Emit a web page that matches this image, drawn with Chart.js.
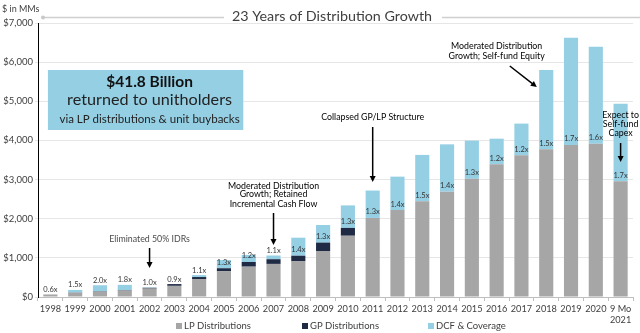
<!DOCTYPE html>
<html>
<head>
<meta charset="utf-8">
<script src="https://cdn.jsdelivr.net/npm/chart.js@4"></script>
<style>
html,body{margin:0;padding:0;background:#fff;}
#wrap{width:640px;height:333px;position:relative;}
</style>
</head>
<body>
<div id="wrap"><canvas id="c" width="640" height="333"></canvas></div>
<script>
const categories = ['1998','1999','2000','2001','2002','2003','2004','2005','2006','2007','2008','2009','2010','2011','2012','2013','2014','2015','2016','2017','2018','2019','2020',['9 Mo','2021']];
const lpDistributions = [65,110,135,165,215,285,460,655,775,845,910,1175,1565,2020,2220,2445,2690,3020,3390,3620,3775,3885,3915,2955];
const gpDistributions = [0,5,10,12,20,45,50,80,120,120,145,215,200,0,0,0,0,0,0,0,0,0,0,0];
const dcfCoverage = [0,65,155,133,10,0,50,210,180,95,460,450,575,700,855,1185,1210,975,655,810,2025,2735,2480,1985];
const coverageLabels = ['0.6x','1.5x','2.0x','1.8x','1.0x','0.9x','1.1x','1.3x','1.2x','1.1x','1.4x','1.3x','1.3x','1.3x','1.4x','1.5x','1.4x','1.3x','1.2x','1.2x','1.5x','1.7x','1.6x','1.7x'];
const yTicks = [0,1000,2000,3000,4000,5000,6000,7000];

const FONT = 'Lato, "Open Sans", sans-serif';
const TXT = '#404040';
const C_LP = '#A6A6A6', C_GP = '#1F2A44', C_DCF = '#95CFE4';

const annotations = [
  {lines:['Eliminated 50% IDRs'], x:4, ys:[1482], arrow:{x1:4,y1:1252,x2:4,y2:741}},
  {lines:['Moderated Distribution','Growth; Retained','Incremental Cash Flow'], x:9, ys:[2844,2624,2376], arrow:{x1:9,y1:2146,x2:9,y2:1329}},
  {lines:['Collapsed GP/LP Structure'], x:13, ys:[4599], arrow:{x1:13,y1:4343,x2:13,y2:2938}},
  {lines:['Moderated Distribution','Growth; Self-fund Equity'], x:18, ys:[6397,6157], arrow:{x1:18.53,y1:5902,x2:19.62,y2:5365}},
  {lines:['Expect to','Self-fund','Capex'], x:23, ys:[4650,4420,4190], arrow:{x1:23,y1:3935,x2:23,y2:3449}}
];

function arrow(ctx, x1, y1, x2, y2){
  const a = Math.atan2(y2-y1, x2-x1), h = 6, w = 3;
  ctx.strokeStyle = '#000'; ctx.fillStyle = '#000'; ctx.lineWidth = 1.5;
  ctx.beginPath(); ctx.moveTo(x1,y1);
  ctx.lineTo(x2 - Math.cos(a)*h*0.8, y2 - Math.sin(a)*h*0.8); ctx.stroke();
  ctx.beginPath();
  ctx.moveTo(x2,y2);
  ctx.lineTo(x2 - Math.cos(a)*h - Math.sin(a)*w, y2 - Math.sin(a)*h + Math.cos(a)*w);
  ctx.lineTo(x2 - Math.cos(a)*h + Math.sin(a)*w, y2 - Math.sin(a)*h - Math.cos(a)*w);
  ctx.closePath(); ctx.fill();
}

const decor = {
  id:'decor',
  afterDatasetsDraw(chart){
    const ctx = chart.ctx;
    const mGP = chart.getDatasetMeta(1).data, mDCF = chart.getDatasetMeta(2).data;
    ctx.save();
    ctx.font = '7.5px ' + FONT; ctx.fillStyle = '#333'; ctx.textAlign = 'center'; ctx.textBaseline = 'middle';
    coverageLabels.forEach((t,i)=>{
      const gpTop = mGP[i].y, top = mDCF[i].y;
      const y = (gpTop - top) >= 6.5 ? gpTop - 6 : top - 5;
      ctx.fillText(t, mGP[i].x, y);
    });
    ctx.restore();
  },
  afterDraw(chart){
    const ctx = chart.ctx, xs = chart.scales.x, ys = chart.scales.y;
    const X = v => xs.getPixelForValue(v), Y = v => ys.getPixelForValue(v);
    const xp = v => { const a = xs.getPixelForValue(0), b = xs.getPixelForValue(1); return a + (b-a)*v; };
    ctx.save();
    // title
    ctx.font = '14.3px ' + FONT; ctx.fillStyle = TXT; ctx.textAlign = 'center'; ctx.textBaseline = 'middle';
    const tx = 332, ty = 16;
    ctx.fillText('23 Years of Distribution Growth', tx, ty);
    const tw = ctx.measureText('23 Years of Distribution Growth').width;
    ctx.strokeStyle = '#CFCFCF'; ctx.lineWidth = 1.5;
    ctx.beginPath(); ctx.moveTo(43, 17.5); ctx.lineTo(tx - tw/2 - 8, 17.5); ctx.stroke();
    ctx.beginPath(); ctx.moveTo(tx + tw/2 + 10, 17.5); ctx.lineTo(640, 17.5); ctx.stroke();
    ctx.fillStyle = '#C8C8C8'; ctx.beginPath(); ctx.arc(43, 17.5, 2, 0, Math.PI*2); ctx.fill();
    // units
    ctx.font = '9px ' + FONT; ctx.fillStyle = TXT; ctx.textAlign = 'left';
    ctx.fillText('$ in MMs', 2, 9);
    // box
    const bx1 = xp(-0.1), bx2 = xp(7.78), by1 = Y(5800), by2 = Y(4267);
    ctx.fillStyle = '#95CFE4'; ctx.fillRect(bx1, by1, bx2-bx1, by2-by1);
    ctx.fillStyle = '#111'; ctx.textAlign = 'center';
    const cx = xp(4);
    ctx.font = 'bold 15.5px ' + FONT; ctx.fillText('$41.8 Billion', cx, Y(5493));
    ctx.font = '16.2px ' + FONT; ctx.fillStyle = '#222'; ctx.fillText('returned to unitholders', cx, Y(5033));
    ctx.font = '11.5px ' + FONT; ctx.fillText('via LP distributions & unit buybacks', cx, Y(4548));
    // annotations
    ctx.font = '8.8px ' + FONT; ctx.fillStyle = '#4A4A4A';
    annotations.forEach(a=>{
      a.lines.forEach((l,k)=> ctx.fillText(l, X(a.x), Y(a.ys[k])));
      arrow(ctx, xp(a.arrow.x1), Y(a.arrow.y1), xp(a.arrow.x2), Y(a.arrow.y2));
    });
    // legend
    const items = chart.data.datasets;
    ctx.font = '9.5px ' + FONT; ctx.textAlign = 'left';
    const lx = [176, 302, 428], ly = 326;
    items.forEach((d,i)=>{
      ctx.fillStyle = d.backgroundColor; ctx.fillRect(lx[i], ly-3, 6, 6);
      ctx.fillStyle = TXT; ctx.fillText(d.label, lx[i] + 8, ly);
    });
    ctx.restore();
  }
};

new Chart(document.getElementById('c'), {
  type:'bar',
  data:{
    labels: categories,
    datasets:[
      {label:'LP Distributions', data: lpDistributions, backgroundColor: C_LP, stack:'s'},
      {label:'GP Distributions', data: gpDistributions, backgroundColor: C_GP, stack:'s'},
      {label:'DCF & Coverage', data: dcfCoverage, backgroundColor: C_DCF, stack:'s'}
    ]
  },
  options:{
    responsive:false, animation:false,
    layout:{padding:{top:23, right:7, left:0, bottom:0}},
    datasets:{bar:{barPercentage:0.57, categoryPercentage:1}},
    plugins:{legend:{display:false}, tooltip:{enabled:false}},
    scales:{
      x:{stacked:true, offset:true,
        grid:{display:true, drawOnChartArea:false, offset:true, tickLength:4, color:'#BFBFBF'},
        border:{color:'#BFBFBF'},
        ticks:{color:TXT, font:{family:FONT, size:9.2, lineHeight:1.25}, padding:2, maxRotation:0, autoSkip:false},
        afterFit(s){ s.height = 36; }
      },
      y:{stacked:true, min:0, max:7000,
        afterBuildTicks(s){ s.ticks = yTicks.map(v=>({value:v})); },
        grid:{color:'#E6E6E6', tickLength:3},
        border:{color:'#000', width:1},
        ticks:{color:TXT, font:{family:FONT, size:9.5}, padding:2, callback:v=>'$'+v.toLocaleString('en-US')},
        afterFit(s){ s.width = 38; }
      }
    }
  },
  plugins:[decor]
});
</script>
</body>
</html>
